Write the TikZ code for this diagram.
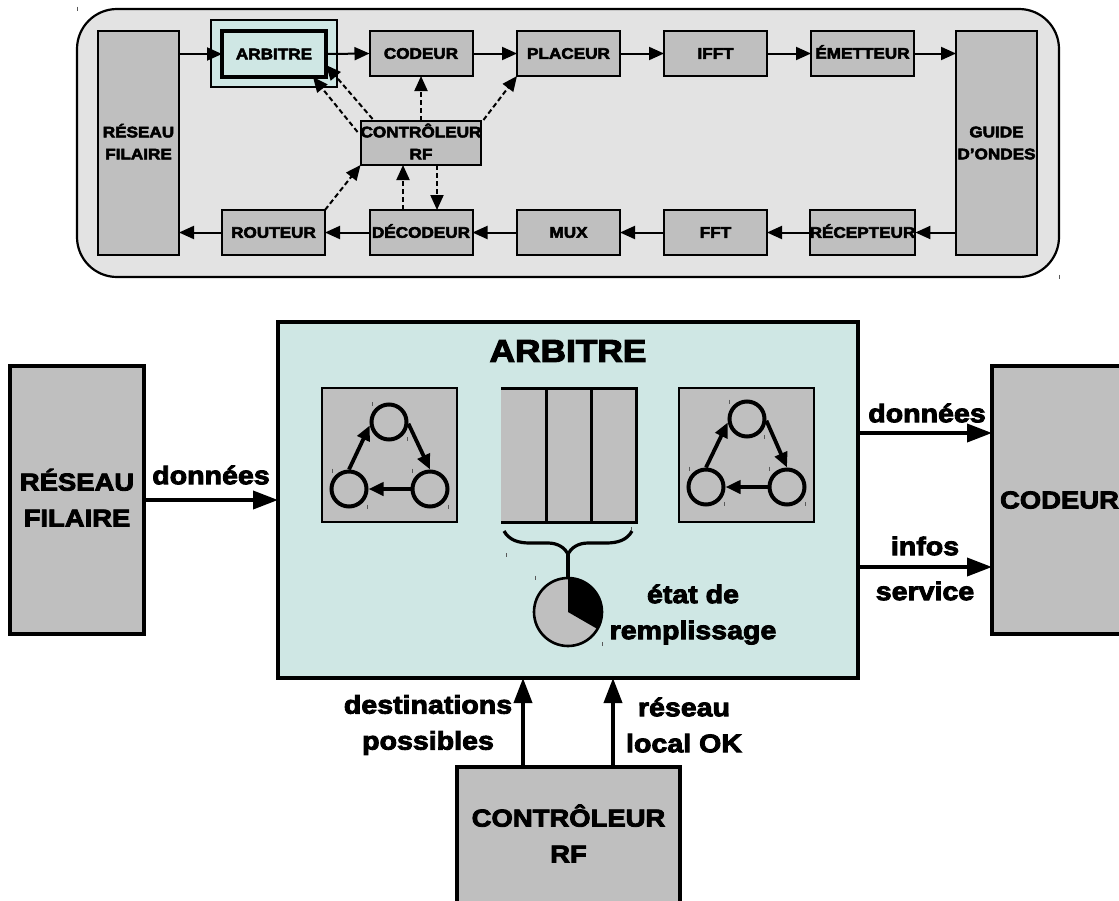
\documentclass[tikz,border=0pt]{standalone}
\usepackage{fontspec}
\setmainfont{Liberation Sans}[BoldFeatures={FakeBold=3.5,FakeStretch=1.12}]
\usetikzlibrary{arrows.meta}
\definecolor{boxgray}{HTML}{BFBFBF}
\definecolor{panelgray}{HTML}{E3E3E3}
\definecolor{teal}{HTML}{CFE7E4}
\newcommand{\smalltxt}{\fontsize{15.3}{22}\selectfont\bfseries}
\newcommand{\bigtxt}{\fontsize{24.5}{36}\selectfont\bfseries}
\newcommand{\lbltxt}{\fontsize{25.5}{36}\selectfont\bfseries}
\tikzset{
  blk/.style={draw=black,fill=boxgray,line width=2pt,inner sep=0pt,outer sep=0pt,align=center,font=\smalltxt,minimum width=103pt,minimum height=45pt},
  bigblk/.style={draw=black,fill=boxgray,line width=3.4pt,inner sep=0pt,outer sep=0pt,align=center,font=\bigtxt},
  sarrow/.style={line width=2pt,-{Triangle[length=15pt,width=13pt]}},
  darrow/.style={line width=2pt,dash pattern=on 5pt off 3pt,-{Triangle[length=15pt,width=13pt]}},
  barrow/.style={line width=3.8pt,-{Triangle[length=25pt,width=18pt]}},
  fsmarrow/.style={line width=3.8pt,-{Triangle[length=15pt,width=13pt]}},
  lbl/.style={inner sep=0pt,align=center,font=\lbltxt},
  st/.style={draw=black,circle,line width=4pt,minimum size=35pt,inner sep=0pt,outer sep=2pt},
  fsmbox/.style={draw=black,fill=boxgray,line width=2pt,inner sep=0pt,outer sep=0pt,minimum width=135pt,minimum height=134pt},
  speck/.style={draw=black!65,line width=.7pt},
}
\begin{document}
\begin{tikzpicture}[x=1pt,y=-1pt]
\useasboundingbox (0,0) rectangle (1119,900);
\clip (0,0) rectangle (1119,900);
% upper panel
\draw[fill=panelgray,line width=2.2pt,rounded corners=40pt] (77,9) rectangle (1059,277);
\node[fill=teal,draw=black,line width=2pt,minimum width=126pt,minimum height=67pt,inner sep=0pt] (hl) at (274,53.5) {};
\node[blk,minimum width=81pt,minimum height=224pt] (res) at (138.5,143) {R\smash{É}SEAU\\FILAIRE};
\node[blk,fill=teal,line width=3.6pt,minimum width=104pt,minimum height=46pt] (arb) at (274,54) {ARBITRE};
\node[blk] (cod) at (421,53.5) {CODEUR};
\node[blk] (pla) at (568.5,53.5) {PLACEUR};
\node[blk] (ifft) at (715.5,53.5) {IFFT};
\node[blk] (emi) at (862.5,53.5) {\smash{É}METTEUR};
\node[blk,minimum width=81pt,minimum height=224pt] (gui) at (996.5,143) {GUIDE\\D'ONDES};
\node[blk] (rou) at (273.5,232.5) {ROUTEUR};
\node[blk] (dec) at (421,232.5) {D\smash{É}CODEUR};
\node[blk] (mux) at (568.5,232.5) {MUX};
\node[blk] (fft) at (715.5,232.5) {FFT};
\node[blk] (rec) at (862.5,232.5) {R\smash{É}CEPTEUR};
\node[blk,minimum width=120pt,minimum height=44pt] (ctl) at (421,143) {CONTR\smash{Ô}LEUR\\RF};
% upper arrows
\draw[sarrow] (res.east|-arb.west) -- (arb.west);
\draw[sarrow] (arb.east) -- (cod.west);
\draw[sarrow] (cod) -- (pla);
\draw[sarrow] (pla) -- (ifft);
\draw[sarrow] (ifft) -- (emi);
\draw[sarrow] (emi.east) -- (gui.west|-emi.east);
\draw[sarrow] (gui.west|-rec.east) -- (rec.east);
\draw[sarrow] (rec) -- (fft);
\draw[sarrow] (fft) -- (mux);
\draw[sarrow] (mux) -- (dec);
\draw[sarrow] (dec) -- (rou);
\draw[sarrow] (rou.west) -- (res.east|-rou.west);
\draw[darrow] ([xshift=-3pt,yshift=-11pt]ctl.north west) -- ([xshift=-13pt]arb.south east);
\draw[darrow] ([xshift=12pt,yshift=2pt]ctl.north west) -- ([yshift=12pt]arb.south east);
\draw[darrow] (ctl.north) -- (cod.south);
\draw[darrow] ([xshift=2pt,yshift=1pt]ctl.north east) -- (pla.south west);
\draw[darrow] (rou.north east) -- (ctl.south west);
\draw[darrow] ([xshift=-18pt]dec.north) -- ([xshift=-18pt]ctl.south);
\draw[darrow] ([xshift=16pt]ctl.south) -- ([xshift=16pt]dec.north);
% lower part
\node[draw=black,fill=teal,line width=3.4pt,minimum width=580pt,minimum height=356pt,inner sep=0pt,outer sep=0pt] (big) at (568,500) {};
\node[bigblk,minimum width=134pt,minimum height=268pt] (bres) at (77,500) {R\smash{É}SEAU\\FILAIRE};
\node[bigblk,minimum width=135pt,minimum height=268pt] (bcod) at (1059.5,500) {CODEUR};
\node[bigblk,minimum width=223pt,minimum height=138pt] (bctl) at (568.5,836) {CONTR\smash{Ô}LEUR\\RF};
\node[lbl,font=\fontsize{31.5}{36}\selectfont\bfseries] (tit) at (568,351) {ARBITRE};
\draw[barrow] (bres.east) -- (big.west);
\draw[barrow] (big.east|-928,433) -- (bcod.west|-928,433);
\draw[barrow] (big.east|-928,567) -- (bcod.west|-928,567);
\draw[barrow] (bctl.north-|523,0) -- (big.south-|523,0);
\draw[barrow] (bctl.north-|613,0) -- (big.south-|613,0);
\node[lbl] (l1) at (211,475) {données};
\node[lbl] (l2) at (927,413) {données};
\node[lbl] (l3) at (925,546) {infos};
\node[lbl] (l4) at (925,591) {service};
\node[lbl] (l5) at (428,725) {destinations\\possibles};
\node[lbl] (l6) at (684,725) {réseau\\local OK};
\node[lbl] (l7) at (693,614.5) {état de\\remplissage};
% left automaton
\node[fsmbox] (fa) at (389.5,455) {};
\node[st] (a1) at (389,422) {};
\node[st] (a2) at (430,489) {};
\node[st] (a3) at (349,489) {};
\draw[fsmarrow] (a3.north) -- (a1.190);
\draw[fsmarrow] (a1.-5) -- (a2.north);
\draw[fsmarrow] (a2.west) -- (a3.east);
% right automaton
\node[fsmbox] (fb) at (746.5,455) {};
\node[st] (b1) at (747,419) {};
\node[st] (b2) at (787,487) {};
\node[st] (b3) at (706,487) {};
\draw[fsmarrow] (b3.north) -- (b1.190);
\draw[fsmarrow] (b1.-5) -- (b2.north);
\draw[fsmarrow] (b2.west) -- (b3.east);
% queue
\fill[boxgray] (501,388) rectangle (636,522);
\draw[line width=3pt] (501,388) -- (636,388) -- (636,522) -- (501,522);
\draw[line width=3pt] (546,388) -- (546,522);
\draw[line width=3pt] (591,388) -- (591,522);
% brace
\draw[line width=3.2pt] (504,531) .. controls (509,540) and (518,543) .. (530,543) -- (548,543) .. controls (558,543) and (565,548) .. (568,554) .. controls (571,548) and (578,543) .. (588,543) -- (606,543) .. controls (618,543) and (627,540) .. (632,531);
\draw[line width=3.2pt] (568,552) -- (568,578);
% pie
\draw[fill=boxgray,line width=2.6pt] (568,612) circle[radius=34pt];
\fill[black] (568,612) -- (568,578) arc[start angle=90,end angle=-30,radius=34pt] -- cycle;
% specks
\foreach \x/\y in {372.3/404,407.7/439.3,332/470.7,367.7/506.7,412.3/470.7,448.3/506.7,729/401.7,764.7/437.3,689/468.7,724.7/504.3,769.3/468.7,805/504.3,506/555.3,631.3/529.3,535/577.7,602.3/644.3,77.5/8.5,1059.5/276.5}
  \draw[speck] (\x,\y-2) -- (\x,\y+2);
\end{tikzpicture}
\end{document}
